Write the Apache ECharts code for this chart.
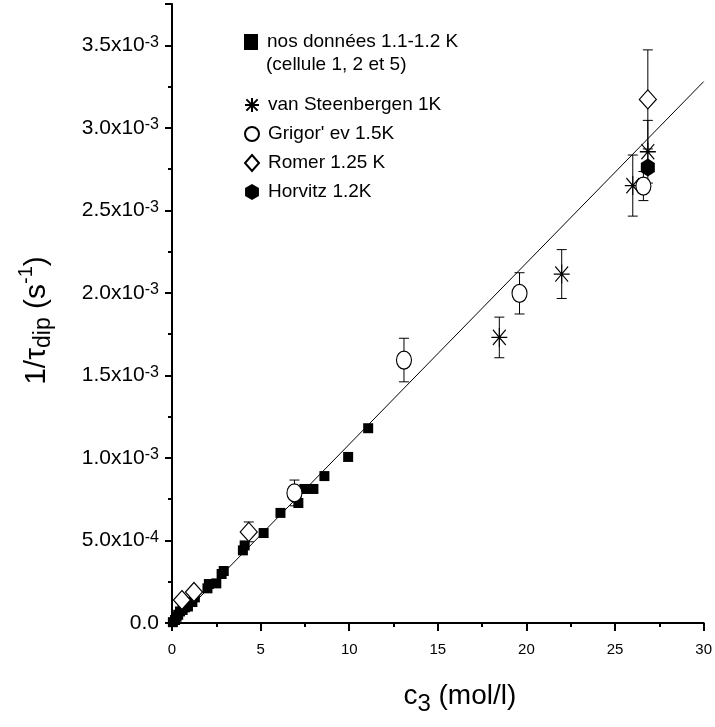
<!DOCTYPE html>
<html><head><meta charset="utf-8">
<script src="https://cdn.jsdelivr.net/npm/echarts@6/dist/echarts.min.js"></script>
<style>html,body{margin:0;padding:0;background:#fff}#c{width:715px;height:727px}</style>
</head><body><div id="c"></div>
<script>
// ---- data (y values in s^-1) ----
const nosX = [0.05, 0.17, 0.26, 0.35, 0.45, 0.6, 0.73, 0.9, 1.15, 1.29, 2.0, 2.08, 2.5, 2.8, 2.92, 4.0, 4.1, 5.17, 6.12, 7.13, 7.47, 7.98, 8.6, 9.94, 11.07];
const nosY = [0.005e-3, 0.018e-3, 0.038e-3, 0.05e-3, 0.07e-3, 0.079e-3, 0.095e-3, 0.1e-3, 0.127e-3, 0.155e-3, 0.21e-3, 0.236e-3, 0.24e-3, 0.297e-3, 0.315e-3, 0.44e-3, 0.47e-3, 0.545e-3, 0.667e-3, 0.727e-3, 0.812e-3, 0.812e-3, 0.89e-3, 1.006e-3, 1.18e-3];

const steenX = [18.47, 21.99, 26.0, 26.85];
const steenY = [1.73e-3, 2.114e-3, 2.65e-3, 2.855e-3];
const steenErr = [0.123e-3, 0.148e-3, 0.185e-3, 0.19e-3];

const grigX = [6.91, 13.09, 19.61, 26.6];
const grigY = [0.788e-3, 1.593e-3, 1.997e-3, 2.647e-3];
const grigErr = [0.078e-3, 0.132e-3, 0.125e-3, 0.088e-3];

const romerX = [0.56, 1.24, 4.33, 26.85];
const romerY = [0.139e-3, 0.188e-3, 0.552e-3, 3.172e-3];
const romerErr = [0, 0, 0.06e-3, 0.30e-3];

const horvX = [26.85];
const horvY = [2.76e-3];

const fitX = [0.15, 30];
const fitY = [0, 3.28e-3];

const xTickValues = [0, 5, 10, 15, 20, 25, 30];

const names = ['nos données 1.1-1.2 K', 'van Steenbergen 1K', "Grigor' ev 1.5K", 'Romer 1.25 K', 'Horvitz 1.2K'];
const subLine = '(cellule 1, 2 et 5)';

// ---- helpers ----
const FONT = 'Liberation Sans, Arial, sans-serif';
const zip2 = (a, b) => a.map((v, i) => [v, b[i]]);
const zip3 = (a, b, c) => a.map((v, i) => [v, b[i], c[i]]);

function errRender(params, api) {
  const x = api.value(0), y = api.value(1), e = api.value(2);
  if (!e) return null;
  const t = api.coord([x, y + e]), b = api.coord([x, y - e]);
  const cw = 5;
  const st = { stroke: '#000', lineWidth: 1 };
  return { type: 'group', children: [
    { type: 'line', shape: { x1: t[0], y1: t[1], x2: b[0], y2: b[1] }, style: st },
    { type: 'line', shape: { x1: t[0] - cw, y1: t[1], x2: t[0] + cw, y2: t[1] }, style: st },
    { type: 'line', shape: { x1: b[0] - cw, y1: b[1], x2: b[0] + cw, y2: b[1] }, style: st }
  ]};
}
function errSeries(x, y, e) {
  return { type: 'custom', renderItem: errRender, data: zip3(x, y, e), encode: { x: 0, y: 1 }, z: 1, silent: true };
}

const STAR = 'path://M0,-10L0,10M-10,0L10,0M-8,-8L8,8M-8,8L8,-8';
const ELLIPSE = 'path://M0,-1A1,1 0 1,1 0,1A1,1 0 1,1 0,-1Z';
const HEX = 'path://M0,-1L0.866,-0.5L0.866,0.5L0,1L-0.866,0.5L-0.866,-0.5Z';

function yLabel(v) {
  if (Math.abs(v) < 1e-12) return '{b|0.0}';
  const ex = Math.floor(Math.log10(v) + 1e-9);
  const m = v / Math.pow(10, ex);
  return '{b|' + m.toFixed(1) + 'x10}{s|' + ex + '}';
}

const legendText = { fontFamily: FONT, fontSize: 19, color: '#000', lineHeight: 20, padding: [0, 0, 0, 4] };

const chart = echarts.init(document.getElementById('c'), null, { renderer: 'canvas' });
chart.setOption({
  animation: false,
  backgroundColor: '#fff',
  textStyle: { fontFamily: FONT },
  grid: { left: 172, right: 9, top: 4, bottom: 104, containLabel: false },
  xAxis: {
    type: 'value', min: 0, max: 30, interval: 5,
    name: 'c{sub|3} (mol/l)', nameLocation: 'middle', nameGap: 58,
    nameTextStyle: { fontFamily: FONT, fontSize: 28, color: '#000', lineHeight: 30, padding: [0, 0, 0, 44],
      rich: { sub: { fontFamily: FONT, fontSize: 24, lineHeight: 12, verticalAlign: 'bottom', padding: [0, 0, -5, 0] } } },
    axisLine: { lineStyle: { color: '#000', width: 2 } },
    axisTick: { inside: false, length: 8, lineStyle: { color: '#000', width: 2 } },
    minorTick: { show: true, splitNumber: 2, length: 4, lineStyle: { color: '#000', width: 2 } },
    axisLabel: { fontFamily: FONT, fontSize: 15, color: '#000', margin: 19 },
    splitLine: { show: false }
  },
  yAxis: {
    type: 'value', min: 0, max: 3.75e-3, interval: 0.5e-3,
    name: '1/τ{sub|dip} (s{sup|-1})', nameLocation: 'middle', nameGap: 120, nameRotate: 90,
    nameTextStyle: { fontFamily: FONT, fontSize: 30, color: '#000', lineHeight: 30, padding: [0, 14, 0, 0],
      rich: {
        sub: { fontFamily: FONT, fontSize: 23, lineHeight: 12, verticalAlign: 'bottom', padding: [0, 0, -3, 0] },
        sup: { fontFamily: FONT, fontSize: 20, lineHeight: 12, verticalAlign: 'top', padding: [-6, 0, 0, 0] }
      } },
    axisLine: { lineStyle: { color: '#000', width: 2 } },
    axisTick: { inside: false, length: 7, lineStyle: { color: '#000', width: 2 } },
    minorTick: { show: true, splitNumber: 2, length: 4, lineStyle: { color: '#000', width: 2 } },
    axisLabel: { color: '#000', margin: 13, showMaxLabel: false, formatter: yLabel,
      rich: {
        b: { fontFamily: FONT, fontSize: 21, lineHeight: 22, color: '#000' },
        s: { fontFamily: FONT, fontSize: 16, lineHeight: 12, verticalAlign: 'top', color: '#000' }
      } },
    splitLine: { show: false }
  },
  legend: [
    { left: 239, top: 27, orient: 'vertical', itemWidth: 14, itemHeight: 16, itemGap: 9,
      textStyle: legendText, data: [names[0]], selectedMode: false },
    { left: 239, top: 90, orient: 'vertical', itemWidth: 14, itemHeight: 16, itemGap: 9,
      textStyle: legendText, data: names.slice(1), selectedMode: false }
  ],
  graphic: [
    { type: 'text', left: 266, top: 55, style: { text: subLine, font: '19px ' + FONT, fill: '#000' } }
  ],
  series: [
    { type: 'line', data: zip2(fitX, fitY), symbol: 'none', lineStyle: { color: '#000', width: 1 }, z: 0, silent: true },
    errSeries(steenX, steenY, steenErr),
    errSeries(grigX, grigY, grigErr),
    errSeries(romerX, romerY, romerErr),
    { name: names[0], type: 'scatter', data: zip2(nosX, nosY), symbol: 'rect', symbolSize: 10,
      itemStyle: { color: '#000', opacity: 1 }, z: 3 },
    { name: names[1], type: 'scatter', data: zip2(steenX, steenY), symbol: STAR, symbolSize: [16, 19],
      itemStyle: { color: 'rgba(0,0,0,0)', borderColor: '#000', borderWidth: 1.2, opacity: 1 }, z: 3 },
    { name: names[2], type: 'scatter', data: zip2(grigX, grigY), symbol: ELLIPSE, symbolSize: [15, 18],
      itemStyle: { color: '#fff', borderColor: '#000', borderWidth: 1.2, opacity: 1 }, z: 3 },
    { name: names[3], type: 'scatter', data: zip2(romerX, romerY), symbol: 'diamond', symbolSize: [17, 19],
      itemStyle: { color: '#fff', borderColor: '#000', borderWidth: 1.2, opacity: 1 }, z: 3 },
    { name: names[4], type: 'scatter', data: zip2(horvX, horvY), symbol: HEX, symbolSize: [14, 18],
      itemStyle: { color: '#000', opacity: 1 }, z: 4 }
  ]
});
</script>
</body></html>
